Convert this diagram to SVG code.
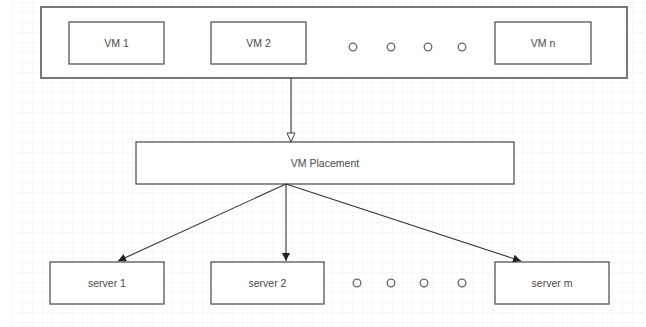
<svg xmlns="http://www.w3.org/2000/svg" width="646" height="327" viewBox="0 0 646 327">
<style>
.box{fill:#fff;stroke:#555;stroke-width:1.3}
.outer{fill:#fff;stroke:#777;stroke-width:2}
.lbl{font-family:"Liberation Sans",Arial,sans-serif;font-size:10.5px;fill:#4a4a4a;text-anchor:middle;dominant-baseline:central}
.dot{fill:#fff;stroke:#666;stroke-width:1.3}
.edge{stroke:#333;stroke-width:1.1;fill:none}
</style>
<defs>
<pattern id="grid" width="10" height="10" patternUnits="userSpaceOnUse" x="2" y="2">
<path d="M10 0H0V10" fill="none" stroke="#efefef" stroke-width="1"/>
</pattern>
<marker id="hollow" markerWidth="12" markerHeight="10" refX="10" refY="5" orient="auto" markerUnits="userSpaceOnUse">
<path d="M1 1L10 5L1 9Z" fill="#fff" stroke="#444" stroke-width="1"/>
</marker>
<marker id="solid" markerWidth="10" markerHeight="8" refX="8" refY="4" orient="auto" markerUnits="userSpaceOnUse">
<path d="M0 0L8 4L0 8Z" fill="#222"/>
</marker>
</defs>
<rect x="0" y="0" width="646" height="327" fill="#fff"/>
<rect x="11" y="0" width="635" height="327" fill="url(#grid)"/>
<g id="vm-group">
<rect class="outer" x="41" y="7" width="586" height="71"/>
</g>
<g id="vm1"><rect class="box" x="69" y="22" width="95" height="42"/><text class="lbl" x="116.5" y="43">VM 1</text></g>
<g id="vm2"><rect class="box" x="211" y="22" width="95" height="42"/><text class="lbl" x="258.5" y="43">VM 2</text></g>
<g id="vmn"><rect class="box" x="495" y="22" width="96" height="42"/><text class="lbl" x="543" y="43">VM n</text></g>
<g id="vm-dots">
<circle class="dot" cx="353" cy="47" r="3.8"/><circle class="dot" cx="391" cy="47" r="3.8"/><circle class="dot" cx="428" cy="47" r="3.8"/><circle class="dot" cx="462" cy="47" r="3.8"/>
</g>
<g id="placement"><rect class="box" x="136" y="142" width="378" height="42"/><text class="lbl" x="325" y="163">VM Placement</text></g>
<g id="server1"><rect class="box" x="50" y="262" width="114" height="42"/><text class="lbl" x="107" y="283">server 1</text></g>
<g id="server2"><rect class="box" x="211" y="262" width="113" height="42"/><text class="lbl" x="267.5" y="283">server 2</text></g>
<g id="serverm"><rect class="box" x="495" y="262" width="114" height="42"/><text class="lbl" x="552" y="283">server m</text></g>
<g id="server-dots">
<circle class="dot" cx="357" cy="283" r="3.8"/><circle class="dot" cx="391" cy="283" r="3.8"/><circle class="dot" cx="424" cy="283" r="3.8"/><circle class="dot" cx="462" cy="283" r="3.8"/>
</g>
<g id="connectors">
<line class="edge" x1="291" y1="78" x2="291" y2="142" marker-end="url(#hollow)"/>
<line class="edge" x1="286" y1="184" x2="118" y2="261" marker-end="url(#solid)"/>
<line class="edge" x1="286" y1="184" x2="286" y2="261" marker-end="url(#solid)"/>
<line class="edge" x1="286" y1="184" x2="521" y2="261" marker-end="url(#solid)"/>
</g>
</svg>
